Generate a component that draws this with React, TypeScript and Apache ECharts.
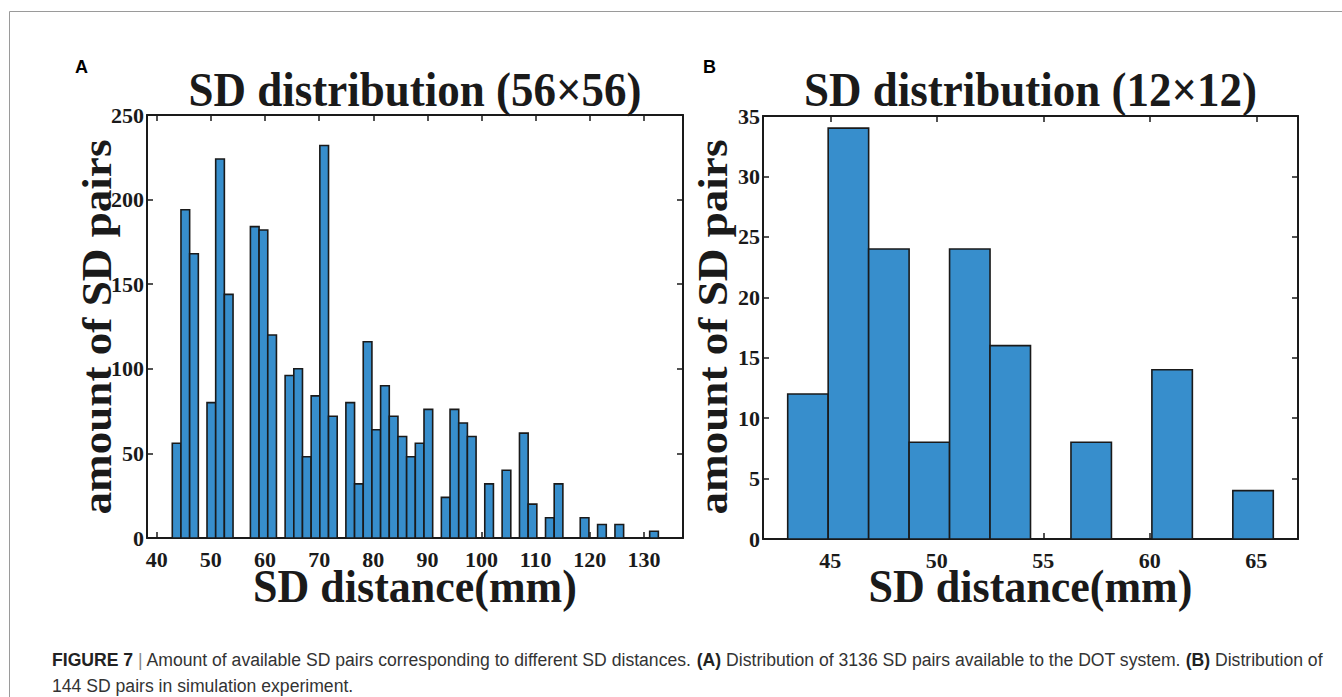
import React, { useEffect, useRef } from "react";
import * as echarts from "echarts";

// ---- data ----
// Panel A: histogram of 3136 SD pairs (56x56), uniform bins
const binStartA = 42.88;
const binWidthA = 1.603;
const countsA = [
  56, 194, 168, 0, 80, 224, 144, 0, 0, 184, 182, 120, 0, 96, 100, 48, 84, 232, 72, 0,
  80, 32, 116, 64, 90, 72, 60, 48, 56, 76, 0, 24, 76, 68, 60, 0, 32, 0, 40, 0,
  62, 20, 0, 12, 32, 0, 0, 12, 0, 8, 0, 8, 0, 0, 0, 4,
];
// Panel B: histogram of 144 SD pairs (12x12)
const binStartB = 43.0;
const binWidthB = 1.9;
const countsB = [12, 34, 24, 8, 24, 16, 0, 8, 0, 14, 0, 4];

const xRangeA = [38.21, 137.2];
const xRangeB = [41.84, 66.96];
const yMaxA = 250;
const yStepA = 50;
const yMaxB = 35;
const yStepB = 5;
const xTickStepA = 10;
const xTickStepB = 5;

const titleA = "SD distribution (56×56)";
const titleB = "SD distribution (12×12)";
const xName = "SD distance(mm)";
const yName = "amount of SD pairs";
const captionLine1 =
  "{b|FIGURE 7} {s||} Amount of available SD pairs corresponding to different SD distances. {b|(A)} Distribution of 3136 SD pairs available to the DOT system. {b|(B)} Distribution of";
const captionLine2 = "144 SD pairs in simulation experiment.";

const BAR = "#378ecc";
const INK = "#1a1a1a";
const SERIF = "'Liberation Serif', 'Times New Roman', serif";
const SANS = "'Liberation Sans', Arial, sans-serif";

function toBins(start: number, width: number, counts: number[]) {
  return counts.map((c, i) => [start + i * width, start + (i + 1) * width, c]);
}

export default function App() {
  const ref = useRef<HTMLDivElement>(null);
  useEffect(() => {
    if (!ref.current) return;
    const chart = echarts.init(ref.current, null, { renderer: "svg" });

    const gridA = { left: 147, top: 115, width: 536, height: 423 };
    const gridB = { left: 763, top: 116, width: 535, height: 423 };

    const tickFmt = (step: number) => (v: number) =>
      Math.abs(v / step - Math.round(v / step)) < 1e-6 ? String(Math.round(v)) : "";

    const axisLine = { show: true, onZero: false, lineStyle: { color: INK, width: 2 } };
    const labelStyle = { color: INK, fontFamily: SERIF, fontWeight: "bold" as const, fontSize: 22 };
    const tick = { show: true, inside: true, length: 6, lineStyle: { color: INK, width: 1.5 } };

    const xAxisBase = (gridIndex: number, range: number[], split: number) => ({
      type: "value",
      gridIndex,
      min: range[0],
      max: range[1],
      splitNumber: split,
      axisLine,
      axisTick: tick,
      splitLine: { show: false },
    });

    const renderBar = (params: any, api: any) => {
      const x0 = api.value(0);
      const x1 = api.value(1);
      const c = api.value(2);
      if (!c) return null;
      const p0 = api.coord([x0, c]);
      const p1 = api.coord([x1, 0]);
      return {
        type: "rect",
        shape: { x: p0[0], y: p0[1], width: p1[0] - p0[0], height: p1[1] - p0[1] },
        style: { fill: BAR, stroke: INK, lineWidth: 1.6 },
      };
    };

    const centerA = gridA.left + gridA.width / 2;
    const centerB = gridB.left + gridB.width / 2;

    chart.setOption({
      animation: false,
      backgroundColor: "#ffffff",
      grid: [
        { ...gridA, containLabel: false, outerBoundsMode: "none" },
        { ...gridB, containLabel: false, outerBoundsMode: "none" },
      ],
      xAxis: [
        {
          ...xAxisBase(0, xRangeA, 10),
          position: "bottom",
          axisLabel: { ...labelStyle, margin: 10, formatter: tickFmt(xTickStepA) },
        },
        { ...xAxisBase(0, xRangeA, 10), position: "top", axisLabel: { show: false } },
        {
          ...xAxisBase(1, xRangeB, 5),
          position: "bottom",
          axisLabel: { ...labelStyle, margin: 10, formatter: tickFmt(xTickStepB) },
        },
        { ...xAxisBase(1, xRangeB, 5), position: "top", axisLabel: { show: false } },
      ],
      yAxis: [
        {
          type: "value", gridIndex: 0, min: 0, max: yMaxA, interval: yStepA, position: "left",
          axisLine, splitLine: { show: false }, axisTick: tick,
          axisLabel: { ...labelStyle, margin: 3 },
        },
        {
          type: "value", gridIndex: 0, min: 0, max: yMaxA, interval: yStepA, position: "right",
          axisLine, splitLine: { show: false }, axisTick: tick, axisLabel: { show: false },
        },
        {
          type: "value", gridIndex: 1, min: 0, max: yMaxB, interval: yStepB, position: "left",
          axisLine, splitLine: { show: false }, axisTick: tick,
          axisLabel: { ...labelStyle, margin: 3 },
        },
        {
          type: "value", gridIndex: 1, min: 0, max: yMaxB, interval: yStepB, position: "right",
          axisLine, splitLine: { show: false }, axisTick: tick, axisLabel: { show: false },
        },
      ],
      series: [
        {
          type: "custom",
          xAxisIndex: 0,
          yAxisIndex: 0,
          renderItem: renderBar,
          encode: { x: [0, 1], y: 2 },
          data: toBins(binStartA, binWidthA, countsA),
          z: 1,
        },
        {
          type: "custom",
          xAxisIndex: 2,
          yAxisIndex: 2,
          renderItem: renderBar,
          encode: { x: [0, 1], y: 2 },
          data: toBins(binStartB, binWidthB, countsB),
          z: 1,
        },
      ],
      graphic: [
        // frame
        { type: "line", shape: { x1: 9.5, y1: 11.5, x2: 1342, y2: 11.5 }, style: { stroke: "#9a9a9a", lineWidth: 1 } },
        { type: "line", shape: { x1: 9.5, y1: 11.5, x2: 9.5, y2: 697 }, style: { stroke: "#9a9a9a", lineWidth: 1 } },
        // panel letters
        { type: "text", x: 75, y: 67, style: { text: "A", font: `bold 18px ${SANS}`, fill: "#000", textVerticalAlign: "middle" } },
        { type: "text", x: 703, y: 67, style: { text: "B", font: `bold 18px ${SANS}`, fill: "#000", textVerticalAlign: "middle" } },
        // titles
        { type: "text", x: centerA, y: 89, scaleY: 1.1, style: { text: titleA, font: `bold 45px ${SERIF}`, fill: INK, textAlign: "center", textVerticalAlign: "middle" } },
        { type: "text", x: centerB, y: 89, scaleY: 1.1, style: { text: titleB, font: `bold 45px ${SERIF}`, fill: INK, textAlign: "center", textVerticalAlign: "middle" } },
        // x axis names
        { type: "text", x: centerA, y: 587, scaleY: 1.05, style: { text: xName, font: `bold 44px ${SERIF}`, fill: INK, textAlign: "center", textVerticalAlign: "middle" } },
        { type: "text", x: centerB, y: 587, scaleY: 1.05, style: { text: xName, font: `bold 44px ${SERIF}`, fill: INK, textAlign: "center", textVerticalAlign: "middle" } },
        // y axis names
        { type: "text", x: 97, y: 327, rotation: Math.PI / 2, scaleX: 1.05, style: { text: yName, font: `bold 43px ${SERIF}`, fill: INK, textAlign: "center", textVerticalAlign: "middle" } },
        { type: "text", x: 713, y: 327, rotation: Math.PI / 2, scaleX: 1.05, style: { text: yName, font: `bold 43px ${SERIF}`, fill: INK, textAlign: "center", textVerticalAlign: "middle" } },
        // caption
        {
          type: "text", x: 52, y: 660,
          style: {
            text: captionLine1,
            font: `17.6px ${SANS}`, fill: "#333", textVerticalAlign: "middle",
            rich: {
              b: { font: `bold 17.6px ${SANS}`, fill: "#222" },
              s: { font: `17.6px ${SANS}`, fill: "#888" },
            },
          },
        },
        { type: "text", x: 52, y: 686, style: { text: captionLine2, font: `17.6px ${SANS}`, fill: "#333", textVerticalAlign: "middle" } },
      ],
    });
    return () => chart.dispose();
  }, []);

  return (
    <div
      ref={ref}
      style={{ position: "absolute", left: 0, top: 0, width: 1342, height: 697, background: "#fff" }}
    />
  );
}
